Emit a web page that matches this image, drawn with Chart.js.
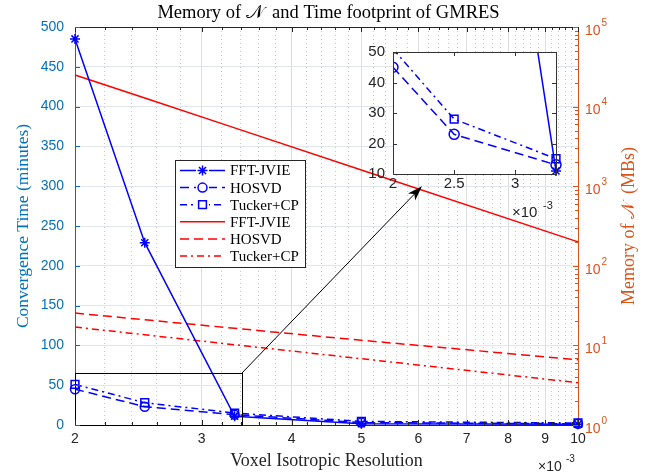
<!DOCTYPE html>
<html>
<head>
<meta charset="utf-8">
<script src="https://cdn.jsdelivr.net/npm/chart.js@4/dist/chart.umd.min.js"></script>
<style>
html, body { margin: 0; padding: 0; background: #fff; }
#wrap { position: relative; width: 654px; height: 474px; }
#main { position: absolute; left: 0; top: 0; }
#inset { position: absolute; left: 345px; top: 35px; }
</style>
</head>
<body>
<div id="wrap">
  <canvas id="main" width="654" height="474"></canvas>
  <canvas id="inset" width="230" height="185"></canvas>
</div>
<script>
// voxel resolution, in units of 1e-3
const resolution = [2, 2.5, 3.333, 5, 10];
const seriesNames = ['FFT-JVIE', 'HOSVD', 'Tucker+CP'];

// convergence time (minutes), left axis
const timeFFT = [485, 229, 11, 1.5, 0.8];
const timeHOSVD = [45, 23, 13, 3, 1.5];
const timeTucker = [51, 28, 15, 4.5, 2.5];

// memory of N (MBs), right axis
const memFFT = [25000, 12800, 5400, 1600, 200];
const memHOSVD = [25.5, 21, 16.4, 11.6, 6.6];
const memTucker = [17, 13.6, 10.2, 6.8, 3.4];

const xMajorTicks = [2, 3, 4, 5, 6, 7, 8, 9, 10];
const leftTicks = [0, 50, 100, 150, 200, 250, 300, 350, 400, 450, 500];
const rightTicks = [1, 10, 100, 1000, 10000, 100000];
const insetXTicks = [2, 2.5, 3];
const insetYTicks = [10, 20, 30, 40, 50];

const BLUE = '#0000ff', RED = '#ff0000';
const AX_BLUE = '#0072BD', AX_ORANGE = '#D95319', AX_DARK = '#262626';
const SANS = '"Liberation Sans", Arial, sans-serif';
const SERIF = '"Liberation Serif", "Times New Roman", serif';
const DASH = [9, 5], DASHDOT = [7, 4, 2, 4];

// minor ticks every 0.2 between 2 and 10
const xTicksAll = [];
for (let v = 20; v <= 100; v += 2) xTicksAll.push(v / 10);
const isMajor = v => xMajorTicks.some(m => Math.abs(m - v) < 1e-6);

const pts = (xs, ys) => xs.map((x, i) => ({ x: x, y: ys[i] }));

function blueSets(n) {
  const xs = resolution.slice(0, n);
  return [
    { label: seriesNames[0], data: pts(xs, timeFFT), yAxisID: 'y', borderColor: BLUE, borderWidth: 1.5,
      pointStyle: 'star', pointRadius: 5, pointBorderWidth: 1.5, pointBorderColor: BLUE, pointBackgroundColor: BLUE },
    { label: seriesNames[1], data: pts(xs, timeHOSVD), yAxisID: 'y', borderColor: BLUE, borderWidth: 1.5, borderDash: DASH,
      pointStyle: 'circle', pointRadius: 4.5, pointBorderWidth: 1.5, pointBorderColor: BLUE, pointBackgroundColor: 'rgba(0,0,0,0)' },
    { label: seriesNames[2], data: pts(xs, timeTucker), yAxisID: 'y', borderColor: BLUE, borderWidth: 1.5, borderDash: DASHDOT,
      pointStyle: 'rect', pointRadius: 5.5, pointBorderWidth: 1.5, pointBorderColor: BLUE, pointBackgroundColor: 'rgba(0,0,0,0)' }
  ];
}

const redSets = [
  { label: seriesNames[0], data: pts(resolution, memFFT), yAxisID: 'y2', borderColor: RED, borderWidth: 1.5, pointRadius: 0 },
  { label: seriesNames[1], data: pts(resolution, memHOSVD), yAxisID: 'y2', borderColor: RED, borderWidth: 1.5, borderDash: DASH, pointRadius: 0 },
  { label: seriesNames[2], data: pts(resolution, memTucker), yAxisID: 'y2', borderColor: RED, borderWidth: 1.5, borderDash: DASHDOT, pointRadius: 0 }
];

function powerLabel(ctx, base, exp, x, y, color, size) {
  ctx.fillStyle = color;
  ctx.textAlign = 'left';
  ctx.textBaseline = 'middle';
  ctx.font = size + 'px ' + SANS;
  ctx.fillText(base, x, y + 4);
  const w = ctx.measureText(base).width;
  ctx.font = Math.round(size * 0.72) + 'px ' + SANS;
  ctx.fillText(exp, x + w + 1, y - 4);
}

function tickMarks(ctx, scale, values, horizontal, from, dir, lenFn, color) {
  ctx.save();
  ctx.strokeStyle = color;
  ctx.lineWidth = 1;
  ctx.beginPath();
  values.forEach(v => {
    const p = Math.round(scale.getPixelForValue(v)) + 0.5;
    const len = lenFn(v);
    if (horizontal) { ctx.moveTo(p, from); ctx.lineTo(p, from + dir * len); }
    else { ctx.moveTo(from, p); ctx.lineTo(from + dir * len, p); }
  });
  ctx.stroke();
  ctx.restore();
}

const mainDecor = {
  id: 'mainDecor',
  afterDatasetsDraw(chart) {
    const ctx = chart.ctx, x = chart.scales.x, y = chart.scales.y;
    // zoom box and arrow towards the inset
    const bx0 = x.getPixelForValue(2), bx1 = x.getPixelForValue(3.41);
    const by0 = y.getPixelForValue(0), by1 = y.getPixelForValue(65);
    ctx.save();
    ctx.strokeStyle = '#000';
    ctx.lineWidth = 1;
    ctx.strokeRect(Math.round(bx0) + 0.5, Math.round(by1) + 0.5, Math.round(bx1 - bx0), Math.round(by0 - by1));
    const ax = x.getPixelForValue(6.07), ay = y.getPixelForValue(300);
    const ang = Math.atan2(ay - by1, ax - bx1);
    ctx.beginPath();
    ctx.moveTo(bx1, by1);
    ctx.lineTo(ax - 10 * Math.cos(ang), ay - 10 * Math.sin(ang));
    ctx.stroke();
    ctx.beginPath();
    ctx.moveTo(ax, ay);
    ctx.lineTo(ax - 15 * Math.cos(ang) + 5 * Math.sin(ang), ay - 15 * Math.sin(ang) - 5 * Math.cos(ang));
    ctx.lineTo(ax - 11 * Math.cos(ang), ay - 11 * Math.sin(ang));
    ctx.lineTo(ax - 15 * Math.cos(ang) - 5 * Math.sin(ang), ay - 15 * Math.sin(ang) + 5 * Math.cos(ang));
    ctx.closePath();
    ctx.fillStyle = '#000';
    ctx.fill();
    ctx.restore();
  },
  afterDraw(chart) {
    const ctx = chart.ctx, a = chart.chartArea;
    const x = chart.scales.x, y = chart.scales.y, y2 = chart.scales.y2;
    ctx.save();
    // top frame
    ctx.strokeStyle = AX_DARK;
    ctx.lineWidth = 1;
    ctx.beginPath();
    ctx.moveTo(a.left, Math.round(a.top) + 0.5);
    ctx.lineTo(a.right, Math.round(a.top) + 0.5);
    ctx.stroke();
    ctx.restore();

    // inward ticks
    tickMarks(ctx, x, xTicksAll, true, a.bottom, -1, v => isMajor(v) ? 5 : 3, AX_DARK);
    tickMarks(ctx, x, xTicksAll, true, a.top, 1, v => isMajor(v) ? 5 : 3, AX_DARK);
    tickMarks(ctx, y, leftTicks, false, a.left, 1, () => 5, AX_BLUE);
    const rMinor = [];
    rightTicks.forEach(d => { for (let k = 1; k <= 9; k++) if (d * k <= 100000) rMinor.push(d * k); });
    tickMarks(ctx, y2, rMinor, false, a.right, -1, v => rightTicks.includes(v) ? 5 : 3, AX_ORANGE);

    // right axis labels 10^k
    rightTicks.forEach((v, k) => {
      powerLabel(ctx, '10', String(k), a.right + 7, y2.getPixelForValue(v), AX_ORANGE, 14);
    });

    // x exponent
    ctx.save();
    ctx.fillStyle = AX_DARK;
    ctx.font = '14px ' + SANS;
    ctx.textBaseline = 'middle';
    ctx.textAlign = 'left';
    ctx.fillText('\u00d710', 538, 467);
    ctx.font = '10px ' + SANS;
    ctx.fillText('-3', 566, 459);

    // right axis title
    ctx.translate(629, (a.top + a.bottom) / 2);
    ctx.rotate(-Math.PI / 2);
    ctx.fillStyle = AX_ORANGE;
    ctx.font = '18px ' + SERIF;
    ctx.textAlign = 'center';
    ctx.textBaseline = 'middle';
    ctx.fillText('Memory of \ud835\udca9\u2009 (MBs)', 0, 0);
    ctx.restore();

    // title
    ctx.save();
    ctx.fillStyle = '#000';
    ctx.font = '18.5px ' + SERIF;
    ctx.textAlign = 'center';
    ctx.textBaseline = 'middle';
    ctx.fillText('Memory of \ud835\udca9\u2009 and Time footprint of GMRES', (a.left + a.right) / 2 + 2, 13);
    ctx.restore();

    // legend
    const box = { x: 175, y: 160, w: 130, h: 107 };
    ctx.save();
    ctx.fillStyle = '#fff';
    ctx.fillRect(box.x, box.y, box.w, box.h);
    ctx.strokeStyle = AX_DARK;
    ctx.lineWidth = 1;
    ctx.strokeRect(box.x + 0.5, box.y + 0.5, box.w, box.h);
    chart.data.datasets.forEach((ds, i) => {
      const cy = box.y + 10.5 + i * 17.1;
      ctx.strokeStyle = ds.borderColor;
      ctx.lineWidth = ds.borderWidth;
      ctx.setLineDash(ds.borderDash || []);
      ctx.beginPath();
      ctx.moveTo(180, cy);
      ctx.lineTo(225, cy);
      ctx.stroke();
      ctx.setLineDash([]);
      if (ds.pointRadius > 0 && Chart.helpers && Chart.helpers.drawPoint) {
        ctx.fillStyle = '#fff';
        ctx.fillRect(196, cy - 6, 13, 12);
        ctx.fillStyle = ds.pointBackgroundColor;
        ctx.strokeStyle = ds.pointBorderColor;
        ctx.lineWidth = ds.pointBorderWidth;
        Chart.helpers.drawPoint(ctx, { pointStyle: ds.pointStyle, radius: ds.pointRadius, borderWidth: ds.pointBorderWidth, rotation: 0 }, 202.5, cy);
      }
      ctx.fillStyle = '#000';
      ctx.font = '15px ' + SERIF;
      ctx.textAlign = 'left';
      ctx.textBaseline = 'middle';
      ctx.fillText(ds.label, 230, cy + 1);
    });
    ctx.restore();
  }
};

const mainChart = new Chart(document.getElementById('main'), {
  type: 'line',
  data: { datasets: blueSets(5).concat(redSets) },
  options: {
    responsive: false,
    animation: false,
    clip: false,
    layout: { padding: { top: 27, left: 0, right: 0, bottom: 0 } },
    plugins: { legend: { display: false }, title: { display: false }, tooltip: { enabled: false } },
    scales: {
      x: {
        type: 'logarithmic', min: 2, max: 10,
        afterBuildTicks(s) { s.ticks = xTicksAll.map(v => ({ value: v })); },
        afterFit(s) { s.height = 49; },
        ticks: { autoSkip: false, maxRotation: 0, padding: 6, color: AX_DARK, font: { family: SANS, size: 14 },
          callback: v => isMajor(v) ? String(Math.round(v)) : '' },
        grid: { drawTicks: false, lineWidth: 1,
          color: c => (c.tick && !isMajor(c.tick.value)) ? '#c8c8c8' : '#dedede' },
        border: { color: AX_DARK, dash: c => (c.tick && !isMajor(c.tick.value)) ? [1, 3] : [] },
        title: { display: true, text: 'Voxel Isotropic Resolution', color: AX_DARK, font: { family: SERIF, size: 18 }, padding: { top: 0, bottom: 2 } }
      },
      y: {
        position: 'left', min: 0, max: 500,
        afterBuildTicks(s) { s.ticks = leftTicks.map(v => ({ value: v })); },
        afterFit(s) { s.width = 75; },
        ticks: { color: AX_BLUE, padding: 11, font: { family: SANS, size: 14 } },
        grid: { drawTicks: false, color: '#e1e6ec' },
        border: { color: AX_BLUE },
        title: { display: true, text: 'Convergence Time (minutes)', color: AX_BLUE, font: { family: SERIF, size: 17.5 }, padding: { top: 13, bottom: 0 } }
      },
      y2: {
        type: 'logarithmic', position: 'right', min: 1, max: 100000,
        afterBuildTicks(s) { s.ticks = rightTicks.map(v => ({ value: v })); },
        afterFit(s) { s.width = 76; },
        ticks: { display: false },
        grid: { drawOnChartArea: false, drawTicks: false },
        border: { color: AX_ORANGE }
      }
    }
  },
  plugins: [mainDecor]
});

const insetDecor = {
  id: 'insetDecor',
  beforeDatasetsDraw(chart) {
    const ctx = chart.ctx, a = chart.chartArea;
    ctx.save();
    ctx.fillStyle = '#fff';
    ctx.fillRect(a.left, a.top, a.right - a.left, a.bottom - a.top);
    ctx.restore();
  },
  afterDraw(chart) {
    const ctx = chart.ctx, a = chart.chartArea, x = chart.scales.x, y = chart.scales.y;
    ctx.save();
    ctx.strokeStyle = '#333';
    ctx.lineWidth = 1;
    ctx.strokeRect(Math.round(a.left) + 0.5, Math.round(a.top) + 0.5, Math.round(a.right - a.left), Math.round(a.bottom - a.top));
    ctx.restore();
    tickMarks(ctx, x, insetXTicks, true, a.bottom, -1, () => 4, '#333');
    tickMarks(ctx, x, insetXTicks, true, a.top, 1, () => 4, '#333');
    tickMarks(ctx, y, insetYTicks, false, a.left, 1, () => 4, '#333');
    tickMarks(ctx, y, insetYTicks, false, a.right, -1, () => 4, '#333');
    ctx.save();
    ctx.fillStyle = AX_DARK;
    ctx.font = '15px ' + SANS;
    ctx.textBaseline = 'middle';
    ctx.textAlign = 'left';
    ctx.fillText('\u00d710', 167, a.bottom + 39);
    ctx.font = '11px ' + SANS;
    ctx.fillText('-3', 198, a.bottom + 32);
    ctx.restore();
  }
};

const insetChart = new Chart(document.getElementById('inset'), {
  type: 'line',
  data: { datasets: blueSets(3).map(d => Object.assign(d, { pointRadius: d.pointStyle === 'circle' ? 5 : d.pointRadius })) },
  options: {
    responsive: false,
    animation: false,
    clip: { left: 0, top: 0, right: 8, bottom: 8 },
    layout: { padding: { top: 7, right: 19, left: 0, bottom: 0 } },
    plugins: { legend: { display: false }, title: { display: false }, tooltip: { enabled: false } },
    scales: {
      x: {
        type: 'linear', min: 2, max: 3.333,
        afterBuildTicks(s) { s.ticks = insetXTicks.map(v => ({ value: v })); },
        afterFit(s) { s.height = 46; },
        ticks: { padding: 1, color: AX_DARK, font: { family: SANS, size: 15 }, callback: v => String(v) },
        grid: { display: false, drawTicks: false },
        border: { color: '#333' }
      },
      y: {
        min: 10, max: 50,
        afterBuildTicks(s) { s.ticks = insetYTicks.map(v => ({ value: v })); },
        afterFit(s) { s.width = 48; },
        ticks: { padding: 8, color: AX_DARK, font: { family: SANS, size: 15 } },
        grid: { display: false, drawTicks: false },
        border: { color: '#333' }
      }
    }
  },
  plugins: [insetDecor]
});
</script>
</body>
</html>
